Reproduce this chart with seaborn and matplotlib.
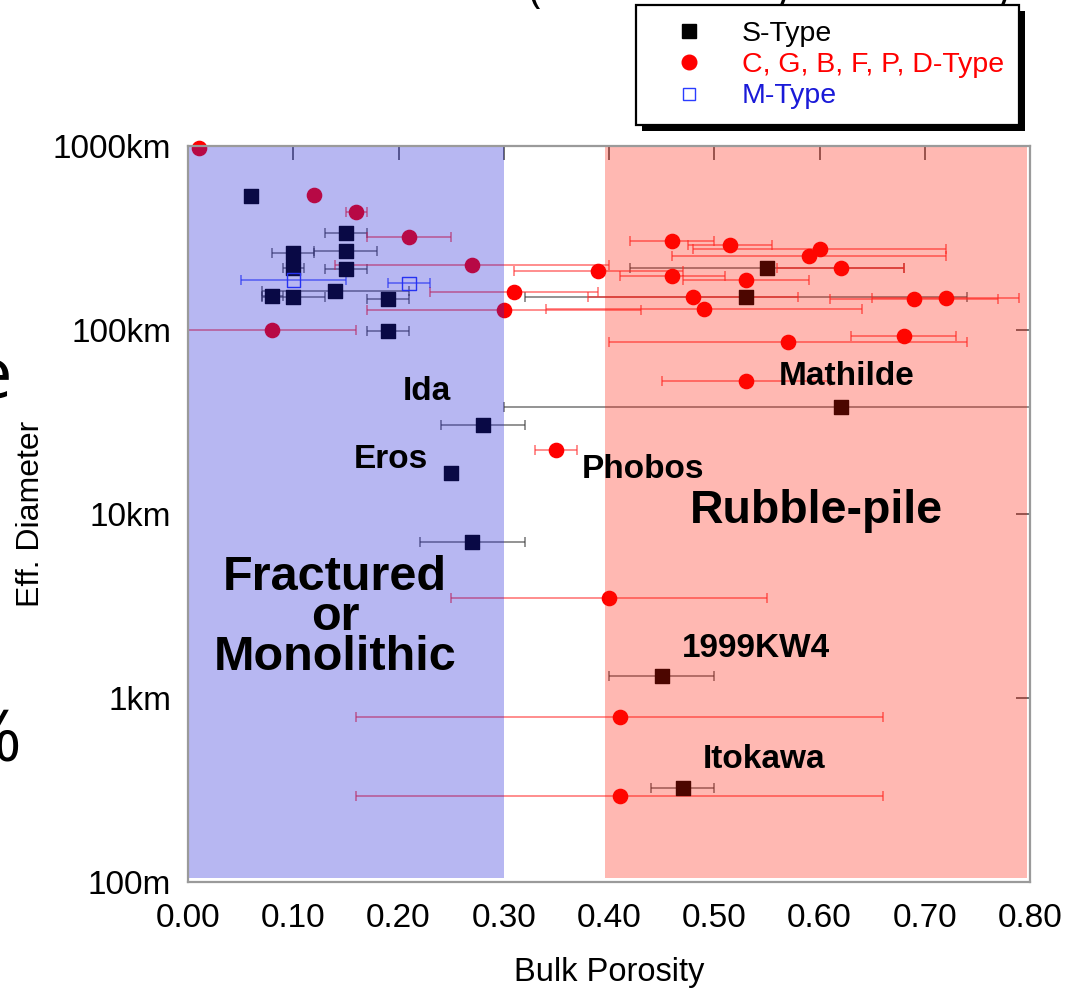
import numpy as np
import pandas as pd
import matplotlib
matplotlib.use("Agg")
import matplotlib.pyplot as plt
import seaborn as sns
from matplotlib.lines import Line2D
from matplotlib.patches import Rectangle
from matplotlib.ticker import FixedLocator, NullLocator

# ---- data: bulk porosity, effective diameter (km), porosity uncertainty ----
s_porosity = [0.06, 0.15, 0.10, 0.15, 0.10, 0.15, 0.08, 0.10, 0.14, 0.19, 0.19,
              0.55, 0.53, 0.62, 0.28, 0.25, 0.27, 0.45, 0.47]
s_diameter = [537, 335, 263, 270, 218, 215, 153, 152, 163, 147, 99,
              216, 152, 38, 30.5, 16.8, 7.06, 1.31, 0.323]
s_err = [0.0, 0.02, 0.02, 0.03, 0.01, 0.02, 0.01, 0.03, 0.07, 0.02, 0.02,
         0.13, 0.21, 0.32, 0.04, 0.0, 0.05, 0.05, 0.03]

c_porosity = [0.01, 0.12, 0.16, 0.21, 0.27, 0.31, 0.30, 0.08, 0.46, 0.515,
              0.60, 0.59, 0.39, 0.62, 0.46, 0.53, 0.48, 0.69, 0.72, 0.49,
              0.68, 0.57, 0.53, 0.35, 0.40, 0.41, 0.41]
c_diameter = [980, 542, 437, 321, 225, 160, 128.6, 99.5, 305, 290,
              276, 252, 210, 217, 196, 188, 152, 147, 150, 130,
              92.7, 85.8, 52.9, 22.3, 3.48, 0.79, 0.294]
c_err = [0.0, 0.0, 0.01, 0.04, 0.13, 0.08, 0.13, 0.08, 0.04, 0.04,
         0.12, 0.13, 0.08, 0.06, 0.05, 0.06, 0.10, 0.08, 0.07, 0.15,
         0.05, 0.17, 0.08, 0.02, 0.15, 0.25, 0.25]

m_porosity = [0.10, 0.21]
m_diameter = [187, 179]
m_err = [0.05, 0.02]

type_labels = ["S-Type", "C, G, B, F, P, D-Type", "M-Type"]
type_colors = ["black", "#ff0000", "#2a3cff"]
err_colors = ["#3a3a3a", "#ff3030", "#2a3cff"]

y_tick_values = [0.1, 1, 10, 100, 1000]
y_tick_labels = ["100m", "1km", "10km", "100km", "1000km"]
x_tick_values = [0.0, 0.1, 0.2, 0.3, 0.4, 0.5, 0.6, 0.7, 0.8]

df = pd.concat([
    pd.DataFrame({"porosity": s_porosity, "diameter": s_diameter,
                  "err": s_err, "type": type_labels[0]}),
    pd.DataFrame({"porosity": c_porosity, "diameter": c_diameter,
                  "err": c_err, "type": type_labels[1]}),
    pd.DataFrame({"porosity": m_porosity, "diameter": m_diameter,
                  "err": m_err, "type": type_labels[2]}),
], ignore_index=True)

sns.set_style("white")
plt.rcParams["font.family"] = ["Liberation Sans", "DejaVu Sans"]
plt.rcParams["text.color"] = "black"
plt.rcParams["axes.labelcolor"] = "black"

W, H = 1067, 990
fig = plt.figure(figsize=(W / 100, H / 100), dpi=100)
ax = fig.add_axes([188 / W, 1 - 882 / H, 842 / W, 736 / H])

# error bars
for label, ecol in zip(type_labels, err_colors):
    sub = df[(df["type"] == label) & (df["err"] > 0)]
    ax.errorbar(sub["porosity"], sub["diameter"], xerr=sub["err"], fmt="none",
                ecolor=ecol, elinewidth=1.4, capsize=3.8, capthick=1.4,
                alpha=0.55, zorder=2)

# markers
marker_style = {type_labels[0]: ("s", 95), type_labels[1]: ("o", 105),
                type_labels[2]: ("s", 90)}
for label, col in zip(type_labels, type_colors):
    sub = df[df["type"] == label]
    mk, size = marker_style[label]
    sns.scatterplot(data=sub, x="porosity", y="diameter", ax=ax, marker=mk,
                    s=size, color=col, edgecolor=col, linewidth=1.0,
                    legend=False, zorder=3)
    coll = ax.collections[-1]
    coll.set_clip_on(False)
    if label == "M-Type":
        coll.set_facecolor("none")
        coll.set_edgecolor(col)

# porosity regimes, washed over the data
ax.axvspan(0.0, 0.30, ymin=0.005, ymax=1.0, color=(0.12, 0.12, 0.85),
           alpha=0.32, lw=0, zorder=4)
ax.axvspan(0.396, 0.797, ymin=0.005, ymax=1.0, color=(1.0, 0.08, 0.0),
           alpha=0.30, lw=0, zorder=4)

ax.set_yscale("log")
ax.set_xlim(0.0, 0.8)
ax.set_ylim(0.1, 1000)
ax.yaxis.set_major_locator(FixedLocator(y_tick_values))
ax.yaxis.set_minor_locator(NullLocator())
ax.set_yticklabels(y_tick_labels)
ax.set_xticks(x_tick_values)
ax.set_xticklabels([f"{v:.2f}" for v in x_tick_values])
ax.tick_params(axis="both", which="major", direction="in", length=10,
               width=1.2, color="#555555", top=True, right=True,
               labelsize=24, labelcolor="black")
ax.tick_params(axis="x", pad=15)
ax.tick_params(axis="y", pad=12)
for sp in ax.spines.values():
    sp.set_color("#9a9a9a")
    sp.set_linewidth(1.6)
    sp.set_zorder(5)

ax.set_xlabel("Bulk Porosity", fontsize=23.5)
ax.set_ylabel("Eff. Diameter", fontsize=23)
ax.xaxis.label.set_va("center")
ax.yaxis.label.set_va("center")
ax.xaxis.set_label_coords(0.5, (882 - 972) / 736)
ax.yaxis.set_label_coords((31 - 188) / 842, 0.5)

# object names and regime labels
small = dict(fontsize=24, fontweight="bold", ha="center", va="baseline",
             color="black", zorder=6)
ax.text(0.227, 41.7, "Ida", **small)
ax.text(0.193, 17.7, "Eros", **small)
ax.text(0.432, 15.6, "Phobos", **small)
ax.text(0.626, 50.2, "Mathilde", **small)
ax.text(0.540, 1.67, "1999KW4", **small)
ax.text(0.547, 0.415, "Itokawa", **small)

big = dict(fontweight="bold", ha="center", va="baseline", color="black",
           zorder=6)
ax.text(0.597, 8.9, "Rubble-pile", fontsize=33.5, **big)
ax.text(0.1397, 1.42, "Fractured\nor\nMonolithic", fontsize=35,
        linespacing=0.86, multialignment="center", **big)

# legend with a hard drop shadow
handles = [
    Line2D([], [], ls="none", marker="s", ms=9.5, mfc="black", mec="black"),
    Line2D([], [], ls="none", marker="o", ms=10.5, mfc="#ff0000", mec="#ff0000"),
    Line2D([], [], ls="none", marker="s", ms=9, mfc="none", mec="#2a3cff",
           mew=1.0),
]
leg = fig.legend(handles, type_labels, loc="upper left",
                 bbox_to_anchor=(636 / W, 1 - 5 / H), bbox_transform=fig.transFigure,
                 fontsize=20.5, frameon=True, fancybox=False, framealpha=1,
                 edgecolor="black", borderpad=0.55, handlelength=2.6,
                 handletextpad=0.56, labelspacing=0.19, borderaxespad=0,
                 labelcolor=["black", "#ff0000", "#1a1ad8"])
leg.get_frame().set_linewidth(1.6)
leg.set_zorder(10)

fig.canvas.draw()
bb = leg.get_window_extent()
shadow = Rectangle((bb.x0 + 6, bb.y0 - 6), bb.width, bb.height,
                   transform=None, facecolor="black", edgecolor="none",
                   zorder=9)
fig.patches.append(shadow)
shadow.set_figure(fig)

# edges of the surrounding slide text
fig.text(13 / W, 1 - 380 / H, "e", fontsize=52, ha="right", va="center",
         family=["Open Sans", "DejaVu Sans"])
fig.text(21 / W, 1 - 742 / H, "%", fontsize=52, ha="right", va="center",
         family=["Open Sans", "DejaVu Sans"])
for px in (535, 782, 1003):
    fig.text(px / W, 1 - 2 / H, "(" if px == 535 else ")", fontsize=30,
             ha="center", va="baseline", family=["Open Sans", "DejaVu Sans"])

fig.savefig("out.png", dpi=100)
